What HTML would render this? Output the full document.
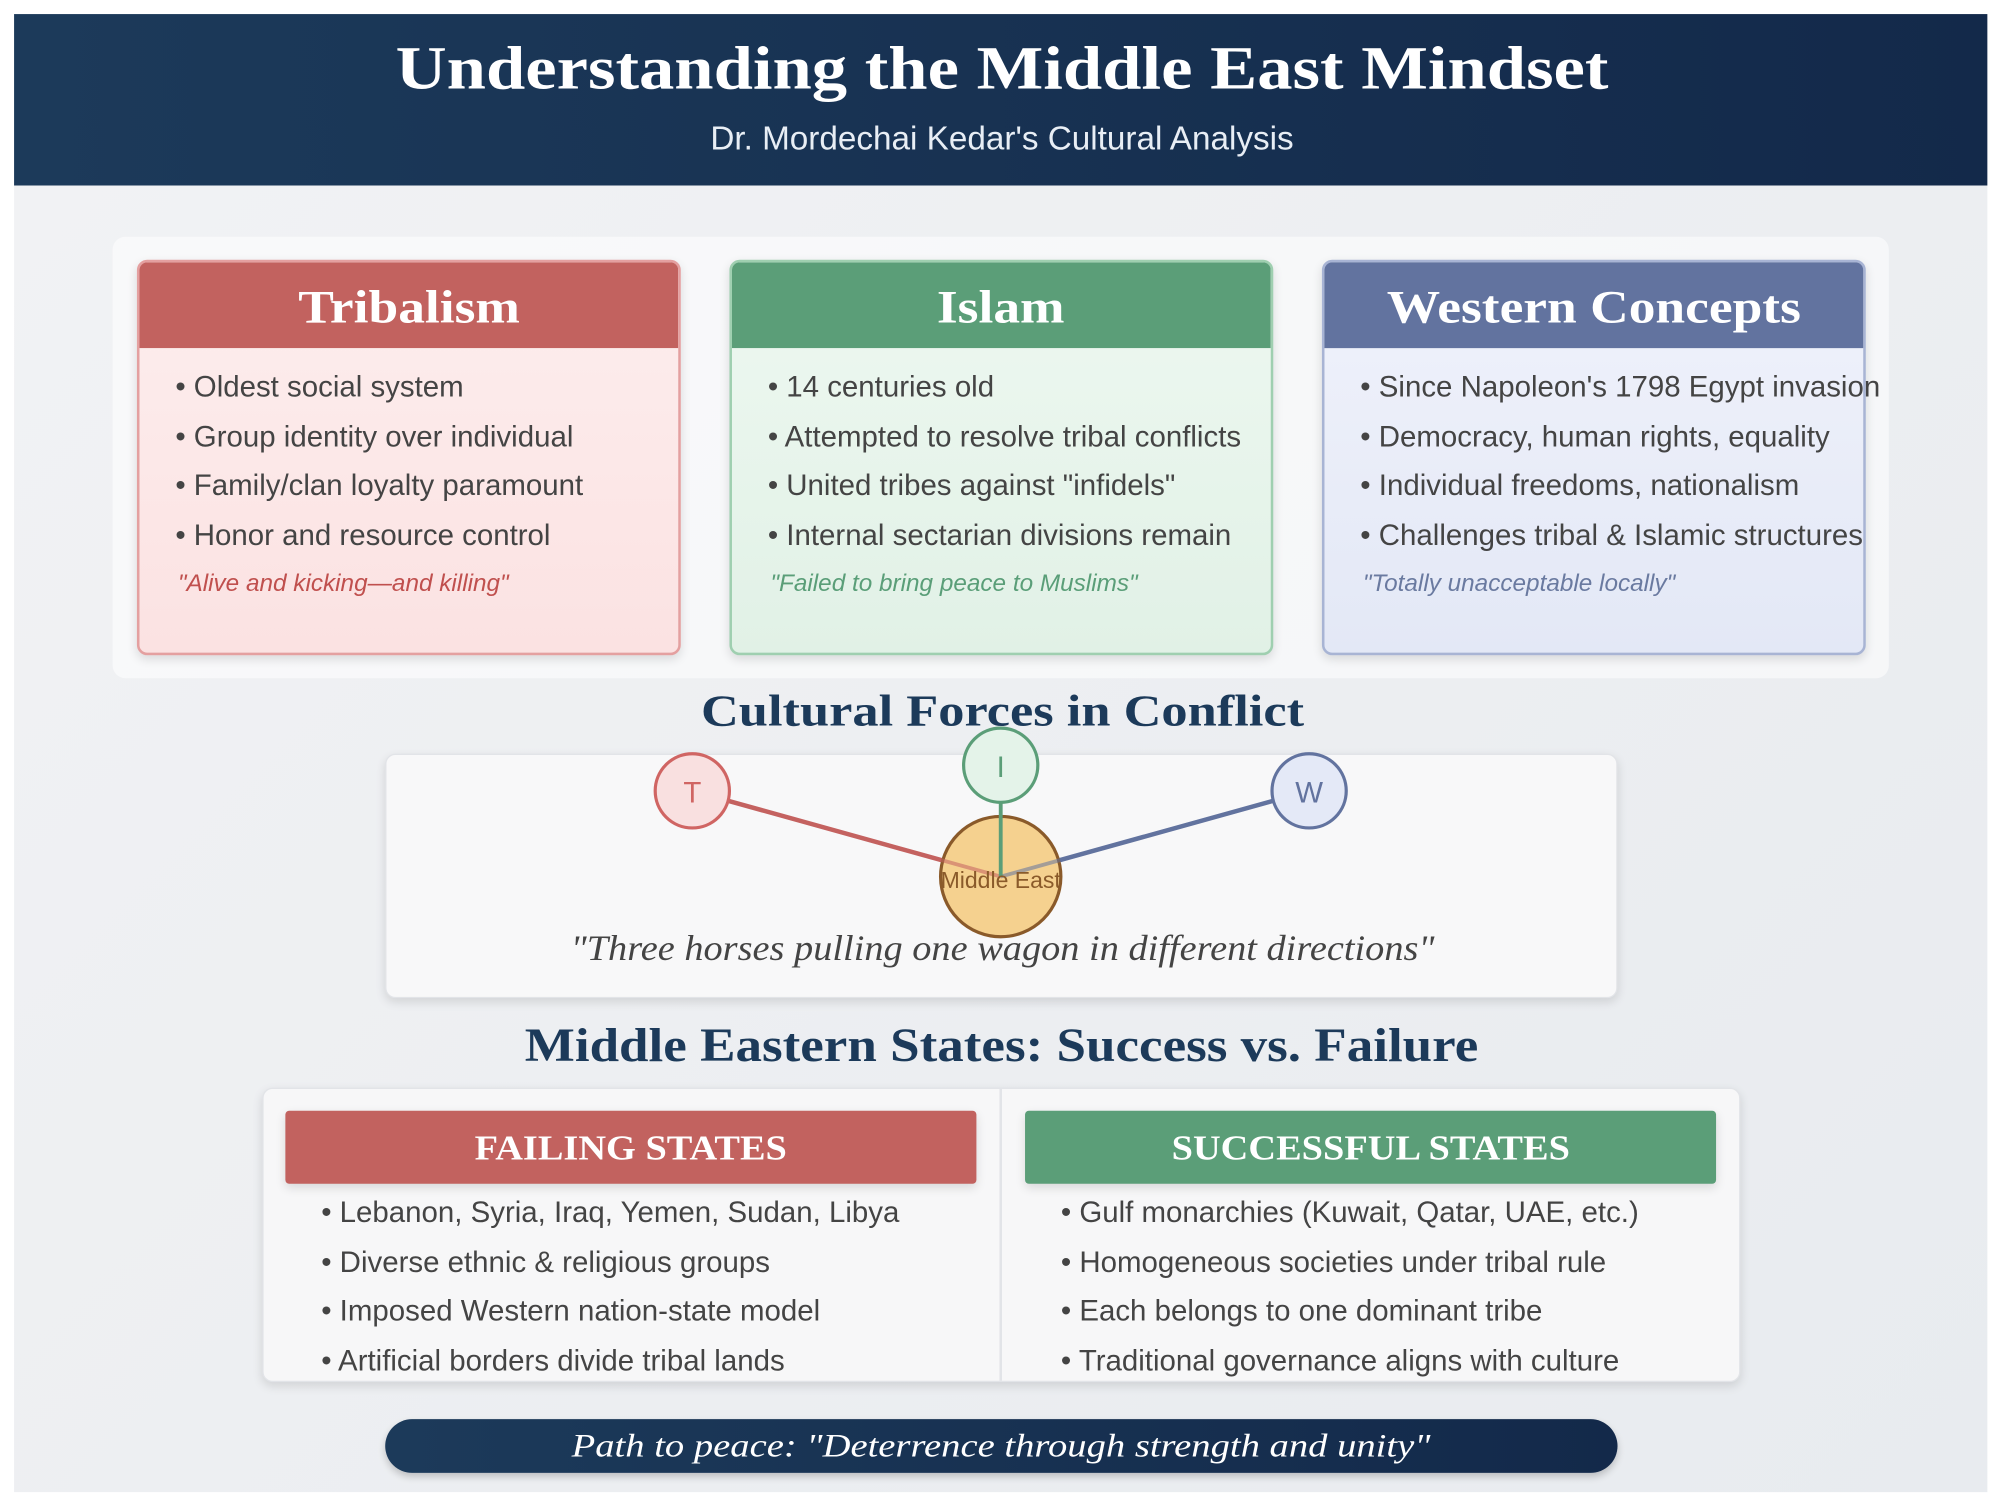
<!DOCTYPE html>
<html><head><meta charset="utf-8"><style>
*{margin:0;padding:0;box-sizing:border-box}
body{width:2004px;height:1510px;background:#fff;overflow:hidden}
#s{width:1566px;height:1180px;transform:scale(1.27969);transform-origin:0 0;position:relative;font-family:"Liberation Sans",sans-serif}
.a{position:absolute}
.serif{font-family:"Liberation Serif",serif}
.x{display:inline-block;transform-origin:center}
.hdr{left:11px;top:11px;width:1542px;height:134px;background:linear-gradient(90deg,#1c3a5a,#13294a);}
.bg{left:11px;top:145px;width:1542px;height:1021px;background:linear-gradient(135deg,#f1f2f4,#e8ebef)}
.card{width:425px;height:309px;top:203px;border-radius:8px;overflow:hidden;border:2px solid}
.card .h{height:67px;color:#fff;font-family:"Liberation Serif",serif;font-weight:bold;font-size:36px;text-align:center;line-height:70px}
.card .h span{display:inline-block;transform:scaleX(1.16)}
.card ul{list-style:none;padding:14px 0 0 28px;font-size:23px;color:#444;white-space:nowrap}
.card li{height:38.5px;line-height:33px}
.card .q{font-style:italic;font-size:19px;padding:6px 0 0 30px}
.sh{box-shadow:0 3px 8px rgba(0,0,0,.12)}
.ttl{left:0;width:1566px;text-align:center;font-family:"Liberation Serif",serif;font-weight:bold;color:#1c3a5a}
.st{position:absolute;font-size:23px;color:#444;line-height:38.5px}
</style></head><body><div id="s">
<div class="a hdr"></div>
<div class="a serif" style="left:0;width:1566px;top:26px;text-align:center;color:#fff;font-weight:bold;font-size:48px"><span class="x" style="transform:scaleX(1.15)">Understanding the Middle East Mindset</span></div>
<div class="a" style="left:0;width:1566px;top:93px;text-align:center;color:#e8eef5;font-size:26px">Dr. Mordechai Kedar's Cultural Analysis</div>
<div class="a bg"></div>
<div class="a" style="left:88px;top:185px;width:1388px;height:345px;background:rgba(255,255,255,.55);border-radius:10px"></div>

<div class="a card sh" style="left:107px;border-color:#e4a0a0;background:linear-gradient(180deg,#fdeeee,#fbe2e2)">
<div class="h" style="background:#c2625f"><span>Tribalism</span></div>
<ul><li>• Oldest social system</li><li>• Group identity over individual</li><li>• Family/clan loyalty paramount</li><li>• Honor and resource control</li></ul>
<div class="q" style="color:#c0504e">"Alive and kicking—and killing"</div></div>

<div class="a card sh" style="left:570px;border-color:#9fcfb0;background:linear-gradient(180deg,#eef8f1,#e1f1e6)">
<div class="h" style="background:#5b9e78"><span>Islam</span></div>
<ul><li>• 14 centuries old</li><li>• Attempted to resolve tribal conflicts</li><li>• United tribes against "infidels"</li><li>• Internal sectarian divisions remain</li></ul>
<div class="q" style="color:#5a9e78">"Failed to bring peace to Muslims"</div></div>

<div class="a card sh" style="left:1033px;border-color:#a8b4d4;background:linear-gradient(180deg,#f0f2fb,#e3e8f6);overflow:visible">
<div class="h" style="background:#62739f;border-radius:6px 6px 0 0"><span>Western Concepts</span></div>
<ul><li>• Since Napoleon's 1798 Egypt invasion</li><li>• Democracy, human rights, equality</li><li>• Individual freedoms, nationalism</li><li>• Challenges tribal &amp; Islamic structures</li></ul>
<div class="q" style="color:#6a7aa0">"Totally unacceptable locally"</div></div>

<div class="a ttl" style="top:536px;font-size:35px"><span class="x" style="transform:scaleX(1.17)">Cultural Forces in Conflict</span></div>
<div class="a sh" style="left:301px;top:589px;width:963px;height:191px;background:#f8f8f9;border-radius:8px;border:1px solid #e2e4e8"></div>
<svg class="a" style="left:0;top:0" width="1566" height="1180">
<line x1="541" y1="618" x2="782" y2="685" stroke="#c46260" stroke-width="3.5"/>
<line x1="1023" y1="618" x2="782" y2="685" stroke="#62739f" stroke-width="3.5"/>
<circle cx="782" cy="685" r="47" fill="#f5d18f" stroke="#8a5a2a" stroke-width="2.5"/>
<line x1="541" y1="618" x2="782" y2="685" stroke="#c46260" stroke-width="3" opacity=".55"/>
<line x1="1023" y1="618" x2="782" y2="685" stroke="#62739f" stroke-width="3" opacity=".55"/>
<line x1="782" y1="598" x2="782" y2="685" stroke="#5b9e78" stroke-width="3"/>
<text x="782" y="694" text-anchor="middle" font-family="Liberation Sans" font-size="18" fill="#8a5a2a">Middle East</text>
<circle cx="541" cy="618" r="29" fill="#f9e0e0" stroke="#d06563" stroke-width="2.5"/>
<text x="541" y="627" text-anchor="middle" font-family="Liberation Sans" font-size="23" fill="#d06563">T</text>
<circle cx="782" cy="598" r="29" fill="#e4f3e9" stroke="#5b9e78" stroke-width="2.5"/>
<text x="782" y="607" text-anchor="middle" font-family="Liberation Sans" font-size="23" fill="#5b9e78">I</text>
<circle cx="1023" cy="618" r="29" fill="#e4e9f7" stroke="#62739f" stroke-width="2.5"/>
<text x="1023" y="627" text-anchor="middle" font-family="Liberation Sans" font-size="23" fill="#62739f">W</text>
</svg>
<div class="a serif" style="left:0;width:1566px;top:726px;text-align:center;font-style:italic;font-size:28px;color:#444"><span class="x" style="transform:scaleX(1.07)">"Three horses pulling one wagon in different directions"</span></div>

<div class="a ttl" style="top:796px;font-size:37px"><span class="x" style="transform:scaleX(1.12)">Middle Eastern States: Success vs. Failure</span></div>
<div class="a sh" style="left:205px;top:850px;width:1155px;height:230px;background:#f7f7f8;border-radius:8px;border:1px solid #e2e4e8"></div>
<div class="a" style="left:781px;top:851px;width:2px;height:228px;background:#e2e4e8"></div>
<div class="a serif sh" style="left:223px;top:868px;width:540px;height:57px;background:#c2625f;color:#fff;font-weight:bold;font-size:27px;text-align:center;line-height:59px;border-radius:3px"><span class="x" style="transform:scaleX(1.11)">FAILING STATES</span></div>
<div class="a serif sh" style="left:801px;top:868px;width:540px;height:57px;background:#5b9e78;color:#fff;font-weight:bold;font-size:27px;text-align:center;line-height:59px;border-radius:3px"><span class="x" style="transform:scaleX(1.11)">SUCCESSFUL STATES</span></div>
<div class="st" style="left:251px;top:928px">• Lebanon, Syria, Iraq, Yemen, Sudan, Libya<br>• Diverse ethnic &amp; religious groups<br>• Imposed Western nation-state model<br>• Artificial borders divide tribal lands</div>
<div class="st" style="left:829px;top:928px">• Gulf monarchies (Kuwait, Qatar, UAE, etc.)<br>• Homogeneous societies under tribal rule<br>• Each belongs to one dominant tribe<br>• Traditional governance aligns with culture</div>

<div class="a serif" style="left:301px;top:1109px;width:963px;height:42px;border-radius:21px;background:linear-gradient(90deg,#1c3a5a,#13294a);color:#fff;font-style:italic;font-size:26px;text-align:center;line-height:42px;box-shadow:0 3px 6px rgba(0,0,0,.2)"><span class="x" style="transform:scaleX(1.16)">Path to peace: "Deterrence through strength and unity"</span></div>
</div></body></html>
